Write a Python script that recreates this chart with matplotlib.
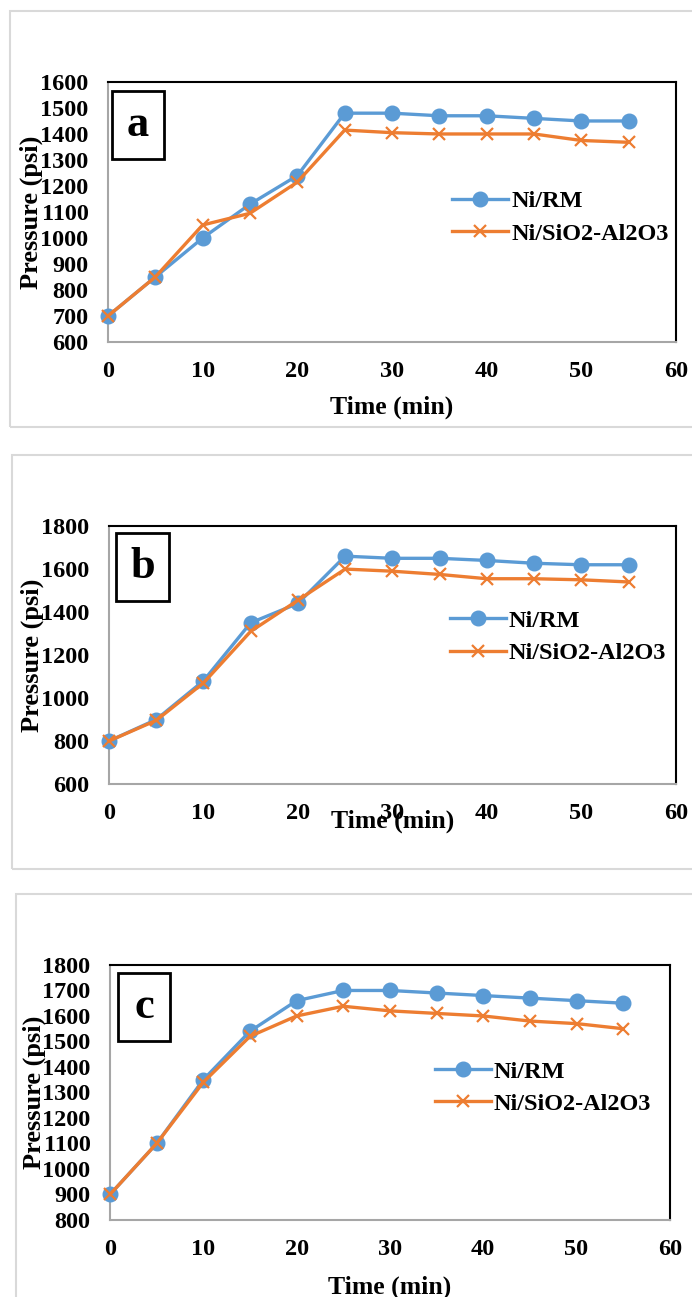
import matplotlib.pyplot as plt
from matplotlib.patches import Rectangle

plt.rcParams['font.family'] = ['Liberation Serif', 'DejaVu Serif']
plt.rcParams['font.weight'] = 'bold'

# time axis (min)
tiempo = [0, 5, 10, 15, 20, 25, 30, 35, 40, 45, 50, 55]

# panel a
rm_a = [700, 850, 1000, 1130, 1240, 1480, 1480, 1470, 1470, 1460, 1450, 1450]
sa_a = [700, 850, 1050, 1095, 1215, 1415, 1405, 1400, 1400, 1400, 1375, 1368]

# panel b
rm_b = [800, 900, 1080, 1350, 1440, 1660, 1650, 1650, 1640, 1627, 1620, 1620]
sa_b = [800, 896, 1070, 1310, 1455, 1600, 1590, 1575, 1555, 1555, 1550, 1540]

# panel c
rm_c = [900, 1100, 1350, 1540, 1660, 1700, 1700, 1690, 1680, 1670, 1660, 1650]
sa_c = [900, 1100, 1340, 1520, 1600, 1638, 1620, 1610, 1600, 1580, 1570, 1550]

nombres = ['Ni/RM', 'Ni/SiO2-Al2O3']
letras = ['a', 'b', 'c']
azul = '#5B9BD5'
naranja = '#ED7D31'

fig = plt.figure(figsize=(6.92, 12.97), dpi=100)

# grey frames around each chart (figure pixels: x0, y_top, y_bottom)
marcos = [(10, 11, 427), (12, 455, 869), (16, 894, 1310)]
for x0, yt, yb in marcos:
    fig.patches.append(Rectangle((x0 / 692, 1 - yb / 1297), 1.05, (yb - yt) / 1297,
                                 transform=fig.transFigure, fill=False,
                                 edgecolor='#D9D9D9', linewidth=1.5))

# axes positions
posiciones = [[0.156, 0.7363, 0.821, 0.2005],
              [0.1575, 0.3955, 0.819, 0.1989],
              [0.159, 0.0594, 0.809, 0.1966]]
ylims = [(600, 1600, 100), (600, 1800, 200), (800, 1800, 100)]
datos = [(rm_a, sa_a), (rm_b, sa_b), (rm_c, sa_c)]
xlab_y = [-0.205, -0.1, -0.218]
cajas = [(0.007, 0.704, 0.0915, 0.261), (0.012, 0.709, 0.094, 0.264), (0.014, 0.702, 0.093, 0.267)]
leyendas = [(0.606, 0.479), (0.601, 0.570), (0.580, 0.518)]

for i in range(3):
    ax = fig.add_axes(posiciones[i])
    rm, sa = datos[i]
    ax.plot(tiempo, rm, color=azul, linewidth=2.4, marker='o', markersize=10.5,
            label=nombres[0], clip_on=False, zorder=3)
    ax.plot(tiempo, sa, color=naranja, linewidth=2.4, marker='x', markersize=9,
            markeredgewidth=1.6, label=nombres[1], clip_on=False, zorder=4)
    lo, hi, paso = ylims[i]
    ax.set_xlim(0, 60)
    ax.set_ylim(lo, hi)
    ax.set_xticks(range(0, 61, 10))
    ax.set_yticks(range(lo, hi + 1, paso))
    ax.tick_params(length=0, labelsize=17.5)
    ax.tick_params(axis='x', pad=14)
    ax.tick_params(axis='y', pad=14)
    for lbl in ax.get_xticklabels() + ax.get_yticklabels():
        lbl.set_fontweight('bold')
    ax.spines['left'].set_color('#A6A6A6')
    ax.spines['bottom'].set_color('#A6A6A6')
    ax.spines['left'].set_linewidth(1.5)
    ax.spines['bottom'].set_linewidth(1.5)
    ax.spines['top'].set_color('black')
    ax.spines['right'].set_color('black')
    ax.spines['top'].set_linewidth(1.5)
    ax.spines['right'].set_linewidth(1.5)
    ax.set_xlabel('Time (min)', fontsize=18.5, fontweight='bold')
    ax.xaxis.set_label_coords(0.5, xlab_y[i])
    ax.set_ylabel('Pressure (psi)', fontsize=19, fontweight='bold')
    ax.yaxis.set_label_coords(-0.115, 0.5)
    bx, by, bw, bh = cajas[i]
    ax.add_patch(Rectangle((bx, by), bw, bh, transform=ax.transAxes, fill=False,
                           edgecolor='black', linewidth=2, zorder=5))
    ax.text(bx + bw / 2, by + bh / 2, letras[i], transform=ax.transAxes,
            ha='center', va='center', fontsize=32, fontweight='bold', zorder=6)
    lx, ly = leyendas[i]
    ax.legend(loc='center left', bbox_to_anchor=(lx, ly), frameon=False,
              handlelength=2.3, handletextpad=0.12,
              labelspacing=0.42, borderpad=0, borderaxespad=0,
              prop={'weight': 'bold', 'size': 17.5})

plt.savefig('out.png', dpi=100)
